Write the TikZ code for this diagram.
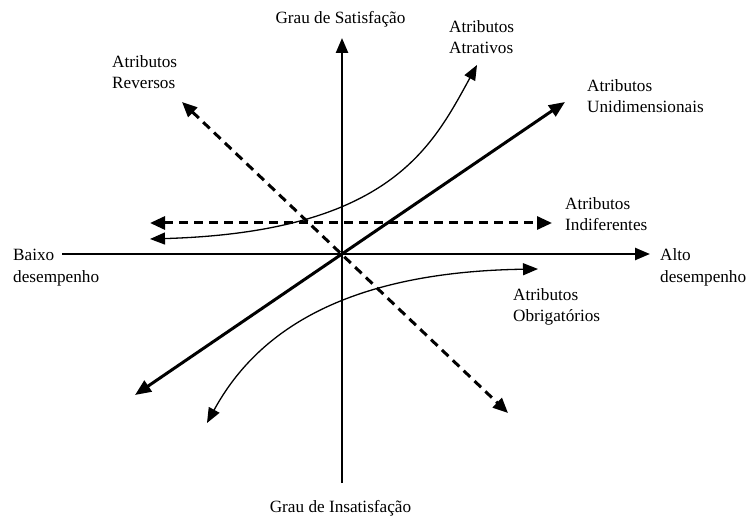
\documentclass[tikz,border=0pt]{standalone}
\usepackage{fontspec}
\setmainfont{Liberation Serif}
\usetikzlibrary{arrows.meta}
\begin{document}
\begin{tikzpicture}[x=1pt,y=-1pt,
  lbl/.style={inner sep=0pt,font=\fontsize{17.2}{21}\selectfont,align=left,anchor=base west},
  ttl/.style={inner sep=0pt,font=\fontsize{17.2}{21}\selectfont,anchor=base},
  axis/.style={line width=2.4pt,-{Triangle[length=15pt,width=12pt]}},
  uni/.style={line width=3pt,{Triangle[length=16pt,width=13pt]}-{Triangle[length=16pt,width=13pt]}},
  dsh/.style={line width=3pt,dash pattern=on 9pt off 6pt,{Triangle[length=15pt,width=13pt]}-{Triangle[length=15pt,width=13pt]}},
  crv/.style={line width=1.3pt,{Triangle[length=15pt,width=12pt]}-{Triangle[length=15pt,width=12pt]}}]
\useasboundingbox (0,0) rectangle (751,518);

% end points of the axes and of the attribute curves
\coordinate (xl) at (62,254);
\coordinate (xr) at (650,254);
\coordinate (yb) at (342,483);
\coordinate (yt) at (342,38);
\coordinate (u1) at (135,395);
\coordinate (u2) at (565,102);
\coordinate (r1) at (182,102);
\coordinate (r2) at (508,413);
\coordinate (i1) at (150,223);
\coordinate (i2) at (552,223);
\coordinate (a1) at (150,239);
\coordinate (a2) at (477,65);
\coordinate (o1) at (207,423);
\coordinate (o2) at (538,269);

% axes
\draw[axis] (xl) -- (xr);
\draw[axis] (yb) -- (yt);

% attribute categories
\draw[uni] (u1) -- (u2);
\draw[dsh] (r1) -- (r2);
\draw[dsh] (i1) -- (i2);
\draw[crv] (a1) .. controls (390,232) and (432,147) .. (a2);
\draw[crv] (o1) .. controls (255,335) and (340,272) .. (o2);

% labels (base anchor sits on the last line)
\node[ttl] (sat) at (340.5,24) {Grau de Satisfação};
\node[ttl] (ins) at (340.5,512) {Grau de Insatisfação};
\node[lbl] (atr) at (449,54) {Atributos\\Atrativos};
\node[lbl] (rev) at (112,89) {Atributos\\Reversos};
\node[lbl] (unid) at (587,113) {Atributos\\Unidimensionais};
\node[lbl] (ind) at (565,231) {Atributos\\Indiferentes};
\node[lbl] (baixo) at (13,282) {Baixo\\desempenho};
\node[lbl] (alto) at (660,282) {Alto\\desempenho};
\node[lbl] (obr) at (513,321) {Atributos\\Obrigatórios};
\end{tikzpicture}
\end{document}
